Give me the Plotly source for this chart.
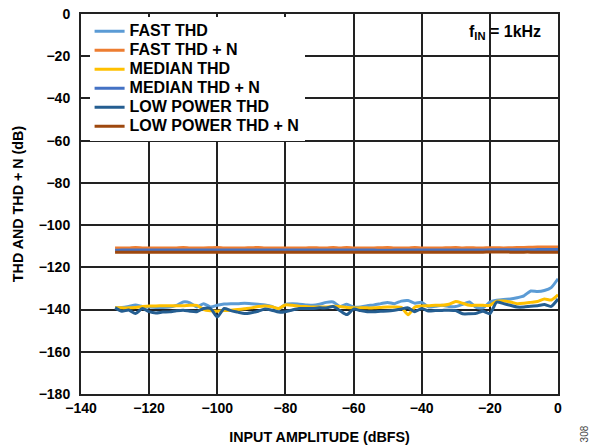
import plotly.graph_objects as go

# Input amplitude (dBFS)
x_dbfs = [
    -130, -128, -126, -124, -122, -120, -118, -116, -114, -112, -110,
    -108, -106, -104, -102, -100, -98, -96, -94, -92, -90, -88,
    -86, -84, -82, -80, -78, -76, -74, -72, -70, -68, -66,
    -64, -62, -60, -58, -56, -54, -52, -50, -48, -46, -44,
    -42, -40, -38, -36, -34, -32, -30, -28, -26, -24, -22,
    -20, -18, -16, -14, -12, -10, -8, -6, -4, -2, 0,
]

fast_thd = [
    -139.2, -139.0, -138.5, -137.9, -138.5, -138.8, -139.0, -139.0, -138.8, -138.0, -136.4,
    -136.8, -138.8, -137.2, -138.8, -138.0, -137.4, -137.2, -137.2, -137.0, -137.2, -137.5,
    -137.8, -138.5, -140.0, -137.5, -137.2, -137.5, -137.8, -138.0, -137.5, -136.6, -136.4,
    -138.5, -137.5, -138.8, -138.8, -138.2, -137.8, -137.2, -136.6, -137.2, -136.0, -135.7,
    -137.0, -136.6, -138.8, -138.4, -138.0, -138.5, -138.6, -137.5, -136.4, -139.0, -139.2,
    -136.5, -135.6, -135.2, -135.0, -134.4, -133.5, -131.2, -131.5, -131.0, -129.6, -125.4,
]

fast_thdn = [
    -110.9, -110.8, -110.8, -110.6, -110.8, -110.9, -110.8, -110.8, -110.9, -110.8, -110.6,
    -110.8, -110.8, -110.8, -110.7, -110.6, -110.8, -110.8, -110.9, -110.8, -110.7, -110.6,
    -110.8, -110.8, -110.9, -110.8, -110.8, -110.8, -110.8, -110.7, -110.8, -110.8, -110.6,
    -110.8, -110.6, -110.8, -110.8, -110.9, -110.8, -110.7, -110.6, -110.8, -110.8, -110.8,
    -110.6, -110.8, -110.8, -110.9, -110.8, -110.7, -110.6, -110.8, -110.7, -110.8, -110.8,
    -110.7, -110.7, -110.8, -110.7, -110.6, -110.6, -110.5, -110.4, -110.4, -110.4, -110.4,
]

median_thd = [
    -139.2, -139.2, -139.2, -139.0, -138.6, -138.3, -138.3, -138.2, -138.2, -138.2, -138.2,
    -138.0, -138.0, -140.0, -140.6, -140.8, -140.5, -140.3, -140.0, -139.6, -139.2, -138.6,
    -138.3, -138.6, -139.5, -137.8, -138.0, -138.4, -138.6, -138.8, -138.8, -138.8, -138.4,
    -138.6, -139.0, -139.2, -139.2, -139.2, -139.2, -139.0, -138.8, -138.8, -139.0, -142.5,
    -138.8, -138.3, -138.2, -138.0, -138.0, -137.5, -136.2, -137.0, -138.0, -138.0, -138.0,
    -138.0, -136.0, -136.0, -136.4, -137.2, -137.0, -136.6, -136.2, -135.0, -135.5, -133.0,
]

median_thdn = [
    -111.9, -111.8, -111.8, -111.8, -111.8, -111.8, -111.8, -111.8, -111.8, -111.8, -111.8,
    -111.8, -111.8, -111.8, -111.8, -111.8, -111.8, -111.8, -111.8, -111.8, -111.8, -111.8,
    -111.8, -111.8, -111.8, -111.8, -111.8, -111.8, -111.8, -111.8, -111.8, -111.8, -111.8,
    -111.8, -111.8, -111.8, -111.8, -111.8, -111.8, -111.9, -111.9, -111.8, -111.8, -111.8,
    -111.8, -111.8, -111.8, -111.8, -111.8, -111.8, -111.8, -111.8, -111.8, -111.8, -111.8,
    -111.7, -111.7, -111.7, -111.7, -111.7, -111.7, -111.7, -111.6, -111.6, -111.6, -111.6,
]

low_power_thd = [
    -139.2, -140.8, -140.2, -141.9, -139.5, -141.0, -141.6, -141.2, -141.1, -140.6, -140.3,
    -140.8, -141.0, -139.5, -139.5, -143.5, -139.5, -140.5, -141.2, -141.9, -141.5, -140.8,
    -139.7, -140.3, -141.2, -141.0, -140.2, -139.5, -139.5, -139.5, -139.2, -139.2, -138.6,
    -140.5, -142.4, -139.8, -140.5, -141.0, -141.0, -140.8, -140.7, -140.3, -139.7, -139.2,
    -141.0, -139.5, -140.7, -140.5, -140.4, -140.3, -140.5, -142.0, -142.0, -141.8, -140.8,
    -142.0, -136.5, -137.2, -138.0, -138.8, -138.8, -138.4, -138.2, -137.6, -138.5, -135.0,
]

low_power_thdn = [
    -112.8, -112.8, -112.8, -112.8, -112.8, -112.8, -112.8, -112.8, -112.8, -112.8, -112.8,
    -112.8, -112.8, -112.8, -112.8, -112.8, -112.8, -112.8, -112.8, -112.8, -112.8, -112.8,
    -112.8, -112.8, -112.8, -112.8, -112.8, -112.8, -112.8, -112.8, -112.8, -112.8, -112.8,
    -112.8, -112.8, -112.8, -112.8, -112.8, -112.8, -112.8, -112.8, -112.8, -112.8, -112.8,
    -112.8, -112.8, -112.8, -112.8, -112.8, -112.8, -112.8, -112.8, -112.8, -112.8, -112.8,
    -112.7, -112.7, -112.7, -112.8, -112.8, -112.8, -112.8, -112.9, -112.9, -112.9, -112.9,
]

series_names = ["FAST THD", "FAST THD + N", "MEDIAN THD", "MEDIAN THD + N",
                "LOW POWER THD", "LOW POWER THD + N"]
series_values = [fast_thd, fast_thdn, median_thd, median_thdn, low_power_thd, low_power_thdn]
series_colors = ["#5B9BD5", "#ED7D31", "#FFC000", "#4472C4", "#255E91", "#9E480E"]

FONT = "Arial, 'Liberation Sans', sans-serif"

fig = go.Figure()
for name, vals, color in zip(series_names, series_values, series_colors):
    fig.add_trace(go.Scatter(
        x=x_dbfs, y=vals, mode="lines",
        name='<span style="font-size:16px">' + name + '</span>',
        line=dict(color=color, width=3, shape="spline", smoothing=0.6),
    ))

axis_common = dict(
    showgrid=True, gridcolor="#222222", gridwidth=1.5,
    showline=True, linecolor="#222222", linewidth=2, mirror=True,
    zeroline=False, ticks="", ticklen=0, automargin=False,
    ticklabeloverflow="allow",
    tickfont=dict(family=FONT, size=14, color="black", weight="bold"),
)

fig.update_layout(
    width=589, height=446,
    margin=dict(l=81, r=31, t=13.5, b=51.5, autoexpand=False),
    paper_bgcolor="white", plot_bgcolor="white",
    font=dict(family=FONT, color="black"),
    xaxis=dict(
        range=[-140, 0], dtick=20, tick0=0,
        title=dict(text="<b>INPUT AMPLITUDE (dBFS)</b>", font=dict(size=14.3, family=FONT), standoff=17),
        ticklabelstandoff=0,
        **axis_common,
    ),
    yaxis=dict(
        range=[-180, 0], dtick=20, tick0=0,
        title=dict(text="<b>THD AND THD + N (dB)</b>", font=dict(size=14.3, family=FONT), standoff=12),
        ticklabelstandoff=6,
        **axis_common,
    ),
    legend=dict(
        x=0.018, y=0.9925, xanchor="left", yanchor="top",
        bgcolor="white", borderwidth=0,
        font=dict(family=FONT, size=12, color="black", weight="bold"),
        itemwidth=30, tracegroupgap=0,
    ),
    showlegend=True,
    annotations=[
        dict(text="<b>f<sub>IN</sub> = 1kHz</b>", xref="paper", yref="paper",
             x=0.888, y=0.952, xanchor="center", yanchor="middle", showarrow=False,
             font=dict(family=FONT, size=16, color="black")),
        dict(text="308", xref="paper", yref="paper", x=1.0556, y=-0.105,
             xanchor="center", yanchor="middle", showarrow=False, textangle=-90,
             font=dict(family=FONT, size=10, color="#444444")),
    ],
)

# remove the default 8px body margin so the figure sits at the page origin
fig.write_html("out.html", config={"displayModeBar": False},
               post_script="document.body.style.margin='0px';")
